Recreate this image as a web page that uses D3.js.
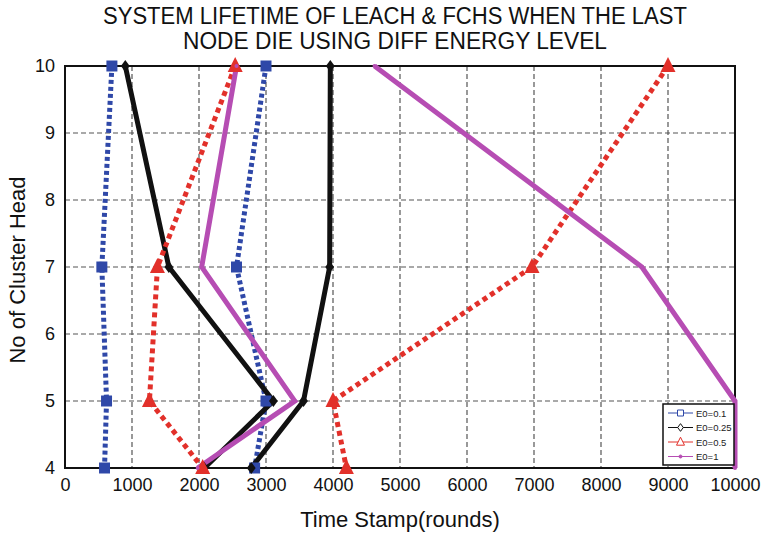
<!DOCTYPE html>
<html>
<head>
<meta charset="utf-8">
<script src="https://cdn.jsdelivr.net/npm/d3@7"></script>
<style>
  body { margin: 0; background: #fff; }
  svg { display: block; font-family: "Liberation Sans", Arial, sans-serif; }
</style>
</head>
<body>
<svg id="chart" width="762" height="536"></svg>
<script>
// ---- data ----
const clusterHeads = [10, 7, 5, 4];
const xTicks = [0, 1000, 2000, 3000, 4000, 5000, 6000, 7000, 8000, 9000, 10000];
const yTicks = [4, 5, 6, 7, 8, 9, 10];
const leach01 = [700, 550, 620, 590];
const fchs01 = [3000, 2560, 3000, 2830];
const leach025 = [900, 1550, 3110, 2080];
const fchs025 = [3960, 3950, 3560, 2780];
const leach05 = [2540, 1380, 1260, 2055];
const fchs05 = [9000, 6970, 4000, 4200];
const leach1 = [2560, 2040, 3430, 1980];
const fchs1 = [4620, 8610, 10000, 10000];
const legendLabels = ["E0=0.1", "E0=0.25", "E0=0.5", "E0=1"];
const titleLines = ["SYSTEM LIFETIME OF LEACH & FCHS WHEN THE LAST", "NODE DIE USING DIFF ENERGY LEVEL"];

const styles = [
  { color: "#2f48a8", width: 5, dash: "4,3", marker: "square" },
  { color: "#111111", width: 5, dash: null, marker: "diamond" },
  { color: "#e2302a", width: 5, dash: "5,4", marker: "triangle" },
  { color: "#b64db3", width: 5, dash: null, marker: "dot" }
];
const seriesList = [
  { values: leach01, s: 0 }, { values: fchs01, s: 0 },
  { values: leach025, s: 1 }, { values: fchs025, s: 1 },
  { values: leach05, s: 2 }, { values: fchs05, s: 2 },
  { values: leach1, s: 3 }, { values: fchs1, s: 3 }
];

const svg = d3.select("#chart");
const L = 65, R = 735, T = 66, B = 468;
const x = d3.scaleLinear().domain([0, 10000]).range([L, R]);
const y = d3.scaleLinear().domain([4, 10]).range([B, T]);

// grid
const grid = svg.append("g");
grid.selectAll("line.v").data(xTicks.slice(1, -1)).join("line")
  .attr("x1", d => x(d)).attr("x2", d => x(d)).attr("y1", T).attr("y2", B)
  .attr("stroke", "#555").attr("stroke-width", 1.2).attr("stroke-dasharray", "5,3");
grid.selectAll("line.h").data(yTicks.slice(1, -1)).join("line")
  .attr("x1", L).attr("x2", R).attr("y1", d => y(d)).attr("y2", d => y(d))
  .attr("stroke", "#555").attr("stroke-width", 1.2).attr("stroke-dasharray", "5,3");

// axes
const xAxis = d3.axisBottom(x).tickValues(xTicks).tickSize(0).tickPadding(10).tickFormat(d3.format("d"));
const gx = svg.append("g").attr("transform", `translate(0,${B})`).call(xAxis);
gx.select(".domain").remove();
gx.selectAll("text").attr("font-size", 18).attr("fill", "#111").attr("font-family", "Liberation Sans, Arial, sans-serif");
const yAxis = d3.axisLeft(y).tickValues(yTicks).tickSize(0).tickPadding(10).tickFormat(d3.format("d"));
const gy = svg.append("g").attr("transform", `translate(${L},0)`).call(yAxis);
gy.select(".domain").remove();
gy.selectAll("text").attr("font-size", 18).attr("fill", "#111").attr("font-family", "Liberation Sans, Arial, sans-serif");

// border
svg.append("rect").attr("x", L).attr("y", T).attr("width", R - L).attr("height", B - T)
  .attr("fill", "none").attr("stroke", "#111").attr("stroke-width", 2);

// lines
const line = d3.line().x(d => x(d[0])).y(d => y(d[1]));
seriesList.forEach(ser => {
  const st = styles[ser.s];
  const pts = ser.values.map((v, i) => [v, clusterHeads[i]]);
  svg.append("path").datum(pts).attr("d", line)
    .attr("fill", "none").attr("stroke", st.color).attr("stroke-width", st.width)
    .attr("stroke-dasharray", st.dash).attr("stroke-linejoin", "miter");
});

function markerPath(type, size) {
  if (type === "square") return d3.symbol(d3.symbolSquare, size * size)();
  if (type === "triangle") { const h = size; return `M0,${-h*0.6}L${h/2},${h*0.4}L${-h/2},${h*0.4}Z`; }
  if (type === "diamond") { const w = size * 0.8, h = size * 1.1; return `M0,${-h/2}L${w/2},0L0,${h/2}L${-w/2},0Z`; }
  return d3.symbol(d3.symbolCircle, size * size * 0.8)();
}
const markerSizes = { square: 11, diamond: 11, triangle: 15, dot: 4 };
seriesList.forEach(ser => {
  const st = styles[ser.s];
  svg.append("g").selectAll("path").data(ser.values.map((v, i) => [v, clusterHeads[i]])).join("path")
    .attr("transform", d => `translate(${x(d[0])},${y(d[1])})`)
    .attr("d", markerPath(st.marker, markerSizes[st.marker]))
    .attr("fill", st.color);
});

// title
titleLines.forEach((t, i) => {
  svg.append("text").attr("x", 395).attr("y", 23.5 + i * 25).attr("text-anchor", "middle")
    .attr("font-size", 23).attr("fill", "#111")
    .attr("textLength", i === 0 ? 584 : 424).attr("lengthAdjust", "spacingAndGlyphs")
    .text(t);
});
// axis labels
svg.append("text").attr("x", 400).attr("y", 527).attr("text-anchor", "middle")
  .attr("font-size", 22).attr("fill", "#111").text("Time Stamp(rounds)");
svg.append("text").attr("transform", "translate(25,270) rotate(-90)").attr("text-anchor", "middle")
  .attr("font-size", 22).attr("fill", "#111").text("No of Cluster Head");

// legend
const lg = svg.append("g");
lg.append("rect").attr("x", 663).attr("y", 404).attr("width", 71).attr("height", 61)
  .attr("fill", "#fff").attr("stroke", "#111").attr("stroke-width", 1.5);
legendLabels.forEach((lab, i) => {
  const st = styles[i];
  const ly = 413 + i * 14.5;
  lg.append("line").attr("x1", 668).attr("x2", 693).attr("y1", ly).attr("y2", ly)
    .attr("stroke", st.color).attr("stroke-width", 1);
  let p;
  if (st.marker === "square") p = markerPath("square", 6);
  else if (st.marker === "diamond") p = markerPath("diamond", 7);
  else if (st.marker === "triangle") p = markerPath("triangle", 8);
  else p = markerPath("dot", 3);
  lg.append("path").attr("transform", `translate(680.5,${ly})`).attr("d", p)
    .attr("fill", st.marker === "dot" ? st.color : "#fff").attr("stroke", st.color).attr("stroke-width", 1);
  lg.append("text").attr("x", 696).attr("y", ly + 3.5).attr("font-size", 9.5).attr("fill", "#222").text(lab);
});
</script>
</body>
</html>
